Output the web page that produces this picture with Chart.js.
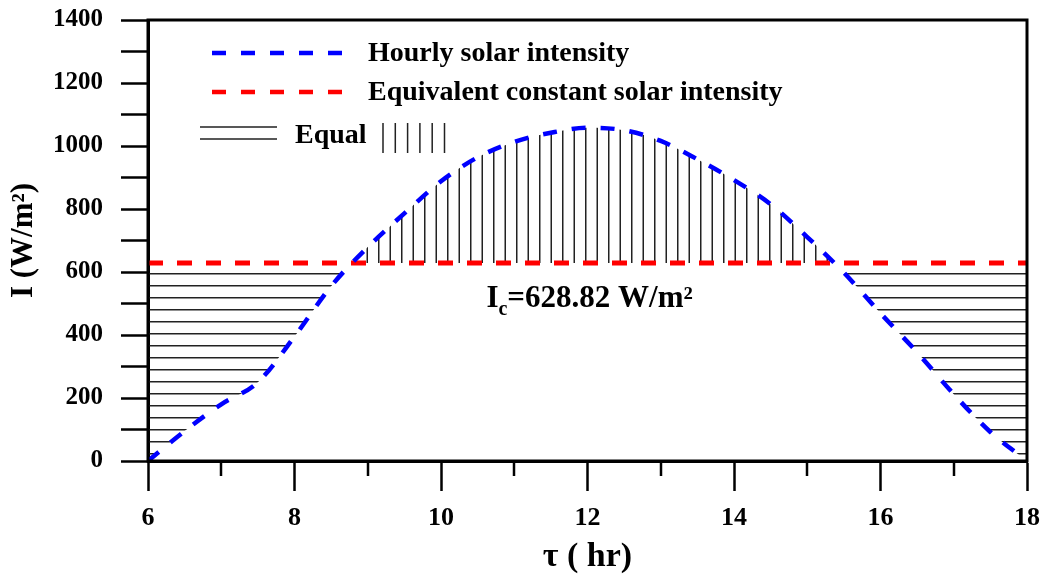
<!DOCTYPE html>
<html>
<head>
<meta charset="utf-8">
<script src="https://cdn.jsdelivr.net/npm/chart.js@4.4.0/dist/chart.umd.min.js"></script>
<style>
html, body { margin: 0; padding: 0; background: #fff; }
</style>
</head>
<body>
<canvas id="chart" width="1046" height="578"></canvas>
<script>
// time of day (hr) and solar intensity
const tau = [6, 6.5, 7, 7.5, 8, 8.5, 9, 9.5, 10, 10.5, 11, 11.5, 12,
             12.5, 13, 13.5, 14, 14.5, 15, 15.5, 16, 16.5, 17, 17.5, 18];
const hourly = [0, 95, 180, 250, 395, 555, 679, 786, 888, 964, 1013, 1042, 1058,
                1050, 1016, 958, 892, 815, 711, 598, 469, 345, 212, 92, 0];
const Ic = 628.82;
const seriesNames = ["Hourly solar intensity", "Equivalent constant solar intensity"];

const serif = "'Liberation Serif', 'Times New Roman', serif";

function hatch(horizontal) {
    const c = document.createElement("canvas");
    const g = c.getContext("2d");
    if (horizontal) {
        c.width = 8; c.height = 12;
        g.fillStyle = "#222";
        g.fillRect(0, 9, 8, 1.5);
    } else {
        c.width = 23; c.height = 8;
        g.fillStyle = "#222";
        g.fillRect(10, 0, 1.5, 8);
        g.fillRect(21.5, 0, 1.5, 8);
    }
    return g.createPattern(c, "repeat");
}

const frameAndMinor = {
    id: "frameAndMinor",
    afterDraw(chart) {
        const {ctx, chartArea: a, scales: {x}} = chart;
        ctx.save();
        ctx.strokeStyle = "#000";
        ctx.lineWidth = 2.5;
        for (let t = x.min + 1; t < x.max; t += 2) {
            const px = Math.round(x.getPixelForValue(t));
            ctx.beginPath();
            ctx.moveTo(px, a.bottom);
            ctx.lineTo(px, a.bottom + 15);
            ctx.stroke();
        }
        ctx.lineWidth = 3;
        ctx.strokeRect(a.left, a.top, a.right - a.left, a.bottom - a.top);
        ctx.restore();
    }
};

const legendBox = {
    id: "legendBox",
    afterDraw(chart) {
        const {ctx, chartArea: a} = chart;
        const L = a.left, T = a.top;
        ctx.save();
        ctx.font = "bold 28px " + serif;
        ctx.fillStyle = "#000";
        ctx.textBaseline = "middle";
        ctx.lineWidth = 4.5;
        const rows = [["blue", 33], ["red", 72]];
        rows.forEach(([col, dy], i) => {
            ctx.strokeStyle = col;
            ctx.setLineDash([14, 15]);
            ctx.beginPath();
            ctx.moveTo(L + 64, T + dy);
            ctx.lineTo(L + 196, T + dy);
            ctx.stroke();
            ctx.fillText(seriesNames[i], L + 220, T + dy + 1);
        });
        ctx.setLineDash([]);
        ctx.strokeStyle = "#222";
        ctx.lineWidth = 1.5;
        ctx.beginPath();
        ctx.moveTo(L + 52, T + 107); ctx.lineTo(L + 129, T + 107);
        ctx.moveTo(L + 52, T + 119); ctx.lineTo(L + 129, T + 119);
        for (let k = 0; k < 6; k++) {
            const vx = L + 235 + k * 12.3;
            ctx.moveTo(vx, T + 103); ctx.lineTo(vx, T + 133);
        }
        ctx.stroke();
        ctx.fillText("Equal", L + 147, T + 116);

        // Ic annotation
        const {x, y} = chart.scales;
        let px = x.getPixelForValue(10.62);
        const py = y.getPixelForValue(490);
        ctx.textBaseline = "alphabetic";
        ctx.font = "bold 31px " + serif;
        ctx.fillText("I", px, py);
        px += ctx.measureText("I").width;
        ctx.font = "bold 20px " + serif;
        ctx.fillText("c", px, py + 8);
        px += ctx.measureText("c").width;
        ctx.font = "bold 31px " + serif;
        ctx.fillText("=" + Ic.toFixed(2) + " W/m\u00b2", px, py);
        ctx.restore();
    }
};

new Chart(document.getElementById("chart").getContext("2d"), {
    type: "line",
    data: {
        labels: tau,
        datasets: [
            {
                label: seriesNames[0],
                data: tau.map((t, i) => ({x: t, y: hourly[i]})),
                borderColor: "#0000ff",
                borderWidth: 4.5,
                borderDash: [14, 15],
                cubicInterpolationMode: "monotone",
                pointRadius: 0,
                fill: {target: 1, above: hatch(false), below: hatch(true)},
            },
            {
                label: seriesNames[1],
                data: tau.map(t => ({x: t, y: Ic})),
                borderColor: "#ff0000",
                borderWidth: 5,
                borderDash: [15, 14],
                pointRadius: 0,
                fill: false,
            },
        ],
    },
    options: {
        responsive: false,
        animation: false,
        layout: {padding: {left: 0, top: 20, right: 19, bottom: 0}},
        plugins: {
            legend: {display: false},
            tooltip: {enabled: false},
            filler: {drawTime: "beforeDatasetsDraw"},
        },
        scales: {
            x: {
                type: "linear",
                min: 6,
                max: 18,
                ticks: {
                    stepSize: 2,
                    color: "#000",
                    padding: 12,
                    maxRotation: 0,
                    font: {family: serif, weight: "bold", size: 26},
                },
                grid: {drawOnChartArea: false, tickLength: 30, tickWidth: 2.5, tickColor: "#000"},
                border: {width: 3, color: "#000"},
                title: {
                    display: true,
                    text: "\u03c4 ( hr)",
                    color: "#000",
                    font: {family: serif, weight: "bold", size: 34},
                    padding: {top: 0, bottom: 0},
                },
                afterFit(s) {
                    s.height = 117;
                    s.paddingLeft = 0;
                    s.paddingRight = 0;
                },
            },
            y: {
                min: 0,
                max: 1400,
                ticks: {
                    stepSize: 100,
                    autoSkip: false,
                    color: "#000",
                    padding: 18,
                    font: {family: serif, weight: "bold", size: 25},
                    callback: v => (v % 200 === 0 ? v : ""),
                },
                grid: {drawOnChartArea: false, tickLength: 27, tickWidth: 2.5, tickColor: "#000"},
                border: {width: 3, color: "#000"},
                title: {
                    display: true,
                    text: "I (W/m\u00b2)",
                    color: "#000",
                    font: {family: serif, weight: "bold", size: 31},
                    padding: {top: 5, bottom: 0},
                },
                afterFit(s) {
                    s.width = 148;
                    s.paddingTop = 0;
                    s.paddingBottom = 0;
                },
            },
        },
    },
    plugins: [frameAndMinor, legendBox],
});
</script>
</body>
</html>
